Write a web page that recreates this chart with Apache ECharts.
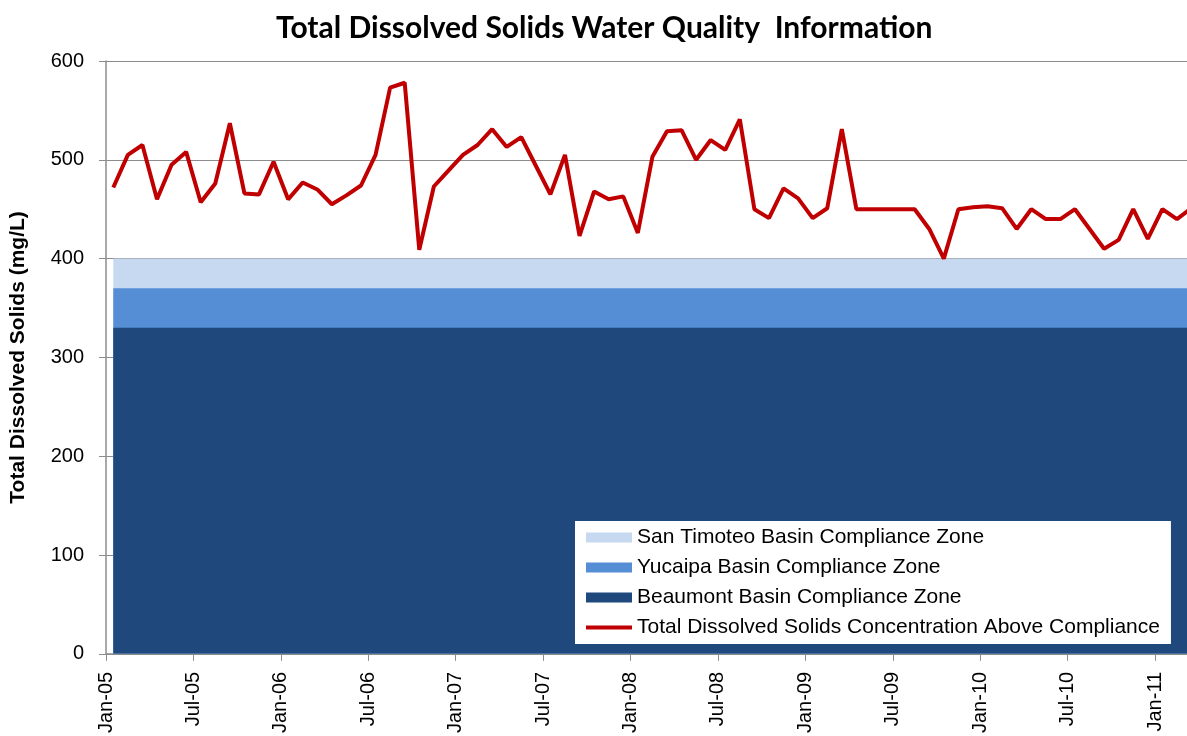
<!DOCTYPE html>
<html>
<head>
<meta charset="utf-8">
<script src="https://cdn.jsdelivr.net/npm/echarts@6/dist/echarts.min.js"></script>
<style>
  html, body { margin: 0; padding: 0; background: #fff; }
  #chart { width: 1187px; height: 736px; }
</style>
</head>
<body>
<div id="chart"></div>
<script>
// tick labels every 6 months, starting Jan-05
const tickLabels = ['Jan-05', 'Jul-05', 'Jan-06', 'Jul-06', 'Jan-07', 'Jul-07', 'Jan-08',
  'Jul-08', 'Jan-09', 'Jul-09', 'Jan-10', 'Jul-10', 'Jan-11']

// monthly TDS readings (mg/L), Jan-05 .. Mar-11
const tdsValues = [
  472, 505, 515, 460, 495, 508, 457, 476, 537, 466, 465, 498,
  460, 477, 470, 455, 464, 474, 505, 573, 578, 409, 473, 489,
  505, 515, 531, 513, 523, 494, 465, 505, 423, 468, 460, 463,
  426, 503, 529, 530, 500, 520, 510, 541, 450, 441, 471, 461,
  441, 451, 531, 450, 450, 450, 450, 450, 430, 400, 450, 452,
  453, 451, 430, 450, 440, 440, 450, 430, 410, 419, 450, 420,
  450, 440, 451
]

// compliance zone ceilings (mg/L)
const sanTimoteoZone = 400
const yucaipaZone = 370
const beaumontZone = 330

const seriesNames = [
  'San Timoteo Basin Compliance Zone',
  'Yucaipa Basin Compliance Zone',
  'Beaumont Basin Compliance Zone',
  'Total Dissolved Solids Concentration Above Compliance'
]

// each reading sits in the middle of its month
const tdsData = tdsValues.map((v, i) => [i + 0.5, v])
const zoneData = level => tdsValues.map((v, i) => [i + 0.5, level])

function zoneSeries(name, level, color) {
  return {
    name: name,
    type: 'line',
    data: zoneData(level),
    symbol: 'none',
    lineStyle: { width: 0, color: color },
    itemStyle: { color: color },
    areaStyle: { color: color, opacity: 1 },
    silent: true
  }
}

// thin bar centred in the 46x10 legend slot (the moves keep the full box)
const lineIcon = 'path://M0,0 M0,3 L46,3 L46,7 L0,7 Z M46,10'

var myChart = echarts.init(document.getElementById('chart'))
const option = {
  animation: false,
  title: {
    text: 'Total Dissolved Solids Water Quality  Information',
    left: 271,
    top: 8,
    textStyle: { fontFamily: 'Lato', fontWeight: 'bold', fontSize: 30, color: '#000' }
  },
  legend: {
    data: seriesNames.map((n, i) => ({ name: n, icon: i < 3 ? 'rect' : lineIcon })),
    orient: 'vertical',
    left: 575,
    top: 521,
    padding: [6, 11, 6, 11],
    itemGap: 9,
    itemWidth: 46,
    itemHeight: 10,
    backgroundColor: '#fff',
    textStyle: { fontFamily: 'Liberation Sans', fontSize: 21, color: '#000' }
  },
  grid: { left: 105, right: 0, top: 61, bottom: 82, containLabel: false },
  xAxis: {
    type: 'value',
    min: 0,
    max: 74.19,
    interval: 6,
    axisLine: { lineStyle: { color: '#8c8c8c', width: 1.5 } },
    axisTick: { length: 7, lineStyle: { color: '#8c8c8c' } },
    splitLine: { show: false },
    axisLabel: {
      rotate: 90,
      margin: 18,
      fontFamily: 'Liberation Sans',
      fontSize: 20,
      color: '#000',
      formatter: v => (v % 6 === 0 ? tickLabels[v / 6] || '' : '')
    }
  },
  yAxis: {
    type: 'value',
    min: 0,
    max: 600,
    interval: 100,
    name: 'Total Dissolved Solids (mg/L)',
    nameLocation: 'middle',
    nameGap: 77,
    nameTextStyle: { fontFamily: 'Liberation Sans', fontWeight: 'bold', fontSize: 21, color: '#000' },
    axisLine: { show: true, lineStyle: { color: '#8c8c8c', width: 1.5 } },
    axisTick: { show: true, length: 7, lineStyle: { color: '#8c8c8c' } },
    splitLine: { lineStyle: { color: '#8c8c8c', width: 1.2 } },
    axisLabel: { margin: 22, fontFamily: 'Liberation Sans', fontSize: 20, color: '#000' }
  },
  series: [
    zoneSeries(seriesNames[0], sanTimoteoZone, '#c6d9f1'),
    zoneSeries(seriesNames[1], yucaipaZone, '#558ed5'),
    zoneSeries(seriesNames[2], beaumontZone, '#1f497d'),
    {
      name: seriesNames[3],
      type: 'line',
      data: tdsData,
      symbol: 'none',
      lineStyle: { width: 4, color: '#c00000' },
      itemStyle: { color: '#c00000' },
      z: 5
    }
  ]
}
myChart.setOption(option)
</script>
</body>
</html>
